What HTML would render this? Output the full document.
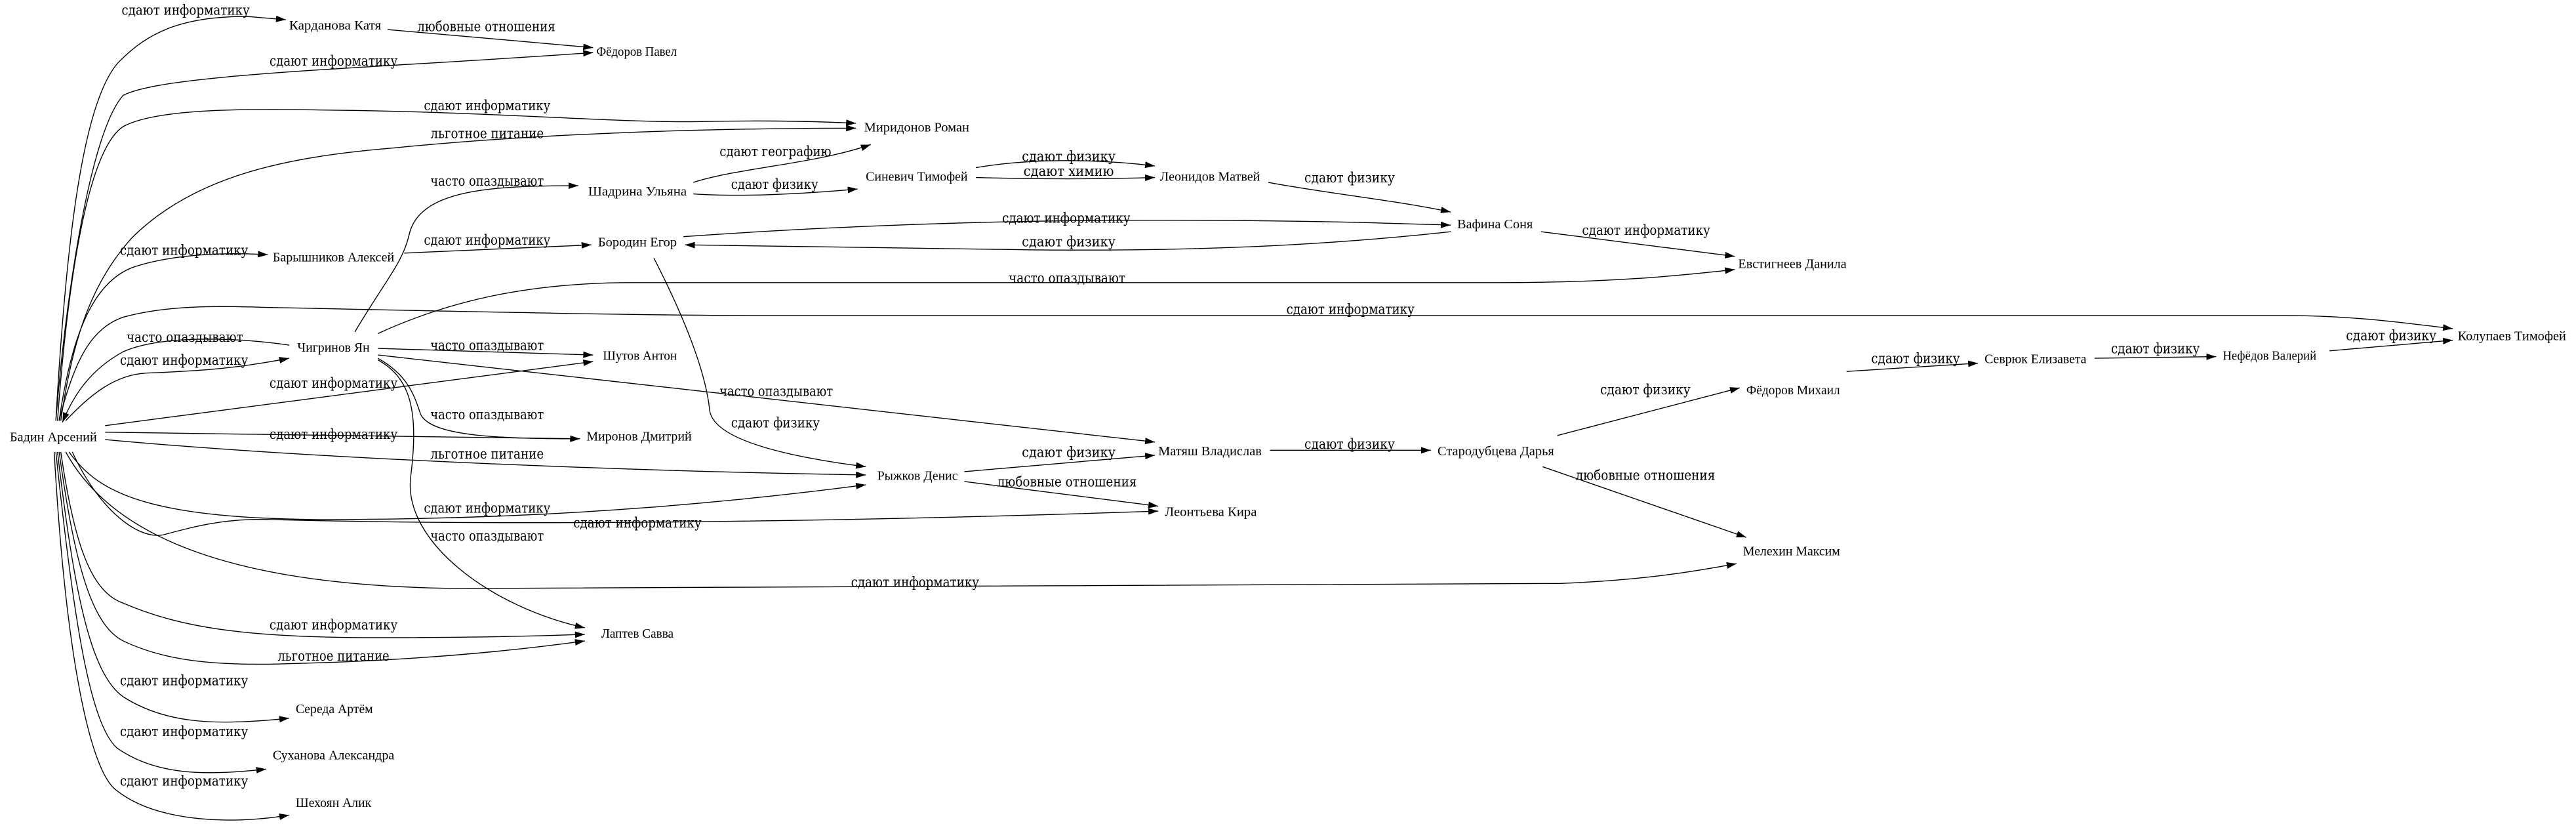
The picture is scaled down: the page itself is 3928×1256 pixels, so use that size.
<!DOCTYPE html>
<html><head><meta charset="utf-8"><style>
html,body{margin:0;padding:0;background:#fff;}
svg{display:block;}
.n{font-family:"Liberation Serif","DejaVu Serif",serif;font-size:8.2px;fill:#000;}
.l{font-family:"DejaVu Serif","Liberation Serif",serif;font-size:8.4px;fill:#000;}
path{fill:none;stroke:#000;stroke-width:0.55;marker-end:url(#a);}
</style></head><body>
<svg width="3928" height="1256" viewBox="0 0 1568 501.4" preserveAspectRatio="none" xmlns="http://www.w3.org/2000/svg">
<defs><marker id="a" markerUnits="userSpaceOnUse" markerWidth="6" markerHeight="4" refX="6" refY="2" orient="auto"><path d="M0,0 L6,2 L0,4 z" style="fill:#000;stroke:none;marker-end:none"/></marker></defs>
<rect width="1568" height="501.4" fill="#fff"/>

<!-- edges -->
<path d="M34,256 C40,150 50,60 73,37 C90,20 110,10 150,10 L174,12"/>
<path d="M236,18 L361,29"/>
<path d="M34,256 C40,180 55,80 75,58 C100,45 220,42 361,32"/>
<path d="M35,256 C42,160 55,90 75,77 C95,66 150,66 200,67 C300,68 380,75 427,74 C470,73 500,74 521,75"/>
<path d="M37,256 C45,200 58,170 80,145 C120,105 180,95 240,90 C320,82 420,78 521,78"/>
<path d="M36,256 C44,200 58,172 80,163 C100,156 130,153 163,155"/>
<path d="M422,111 C450,102 495,100 530,88"/>
<path d="M422,118 C450,120 490,118 522,115"/>
<path d="M216,202 C235,170 245,160 249,143 C255,115 300,113 352,113"/>
<path d="M246,154 L360,149"/>
<path d="M416,144 C500,138 600,134 700,134 C800,134 850,136 883,137"/>
<path d="M883,141 C800,150 720,153 626,152 C530,151 460,150 417,149"/>
<path d="M594,102 C630,96 670,97 703,101"/>
<path d="M594,108 C630,109 670,109 703,108"/>
<path d="M772,111 C810,118 850,122 883,129"/>
<path d="M938,141 L1056,156"/>
<path d="M230,203 C280,180 330,172 385,172 L911,172 C980,172 1020,168 1056,164"/>
<path d="M36,256 C45,220 55,200 75,193 C100,186 130,186 160,187 C300,190 400,192 460,192 L1390,192 C1430,192 1460,196 1493,200"/>
<path d="M1418,213.5 L1493,207"/>
<path d="M1275,218 L1349,217"/>
<path d="M1124,226 L1204,221"/>
<path d="M948,265 L1059,236"/>
<path d="M939,284 L1063,327"/>
<path d="M773,274 L871,274"/>
<path d="M587,287 L703,277"/>
<path d="M587,293 L705,308"/>
<path d="M230,216 L703,269"/>
<path d="M398,157 C420,200 430,230 432,250 C435,268 480,278 527,284"/>
<path d="M230,212 L361,216"/>
<path d="M64,259 L361,220"/>
<path d="M40,256 C55,240 70,228 89,227 C115,226 140,225 176,218"/>
<path d="M176,210 C150,206 100,203 75,214 C55,225 45,240 38,257"/>
<path d="M230,218 C248,228 252,240 256,252 C262,265 300,267 353,267"/>
<path d="M64,263 L353,267"/>
<path d="M64,267.5 C200,280 400,287 527,289"/>
<path d="M42,275 C60,300 90,318 221,316 C350,315 450,305 527,295"/>
<path d="M44,275 C60,310 85,330 101,325 C120,320 135,316 160,316 C300,320 500,318 705,311"/>
<path d="M40,275 C70,330 150,360 303,358 C500,356 700,355 950,355 C1000,353 1030,348 1057,343"/>
<path d="M230,219 C250,230 255,250 250,290 C245,330 300,370 356,382"/>
<path d="M37,275 C45,330 55,360 75,367 C110,382 150,388 228,388 C290,388 330,387 356,386"/>
<path d="M36,275 C45,340 55,380 75,390 C100,402 130,405 170,404 C260,402 320,395 356,390"/>
<path d="M35,275 C45,360 55,410 75,424 C100,440 130,442 176,437"/>
<path d="M34,275 C45,380 55,440 71,455 C95,472 125,472 162,468"/>
<path d="M33,275 C40,400 55,470 71,481 C95,500 140,502 176,496"/>

<!-- edge labels -->
<text class="l" x="74" y="9" textLength="78" lengthAdjust="spacingAndGlyphs">сдают информатику</text>
<text class="l" x="254" y="19" textLength="84" lengthAdjust="spacingAndGlyphs">любовные отношения</text>
<text class="l" x="164" y="40" textLength="78" lengthAdjust="spacingAndGlyphs">сдают информатику</text>
<text class="l" x="258" y="67" textLength="77" lengthAdjust="spacingAndGlyphs">сдают информатику</text>
<text class="l" x="262" y="84" textLength="69" lengthAdjust="spacingAndGlyphs">льготное питание</text>
<text class="l" x="438" y="95" textLength="68" lengthAdjust="spacingAndGlyphs">сдают географию</text>
<text class="l" x="445" y="115" textLength="53" lengthAdjust="spacingAndGlyphs">сдают физику</text>
<text class="l" x="262" y="113" textLength="69" lengthAdjust="spacingAndGlyphs">часто опаздывают</text>
<text class="l" x="622" y="98" textLength="57" lengthAdjust="spacingAndGlyphs">сдают физику</text>
<text class="l" x="623" y="107" textLength="55" lengthAdjust="spacingAndGlyphs">сдают химию</text>
<text class="l" x="794" y="111" textLength="55" lengthAdjust="spacingAndGlyphs">сдают физику</text>
<text class="l" x="258" y="149" textLength="77" lengthAdjust="spacingAndGlyphs">сдают информатику</text>
<text class="l" x="73" y="155" textLength="78" lengthAdjust="spacingAndGlyphs">сдают информатику</text>
<text class="l" x="610" y="135.5" textLength="78" lengthAdjust="spacingAndGlyphs">сдают информатику</text>
<text class="l" x="622" y="150" textLength="57" lengthAdjust="spacingAndGlyphs">сдают физику</text>
<text class="l" x="963" y="143" textLength="78" lengthAdjust="spacingAndGlyphs">сдают информатику</text>
<text class="l" x="614" y="172" textLength="71" lengthAdjust="spacingAndGlyphs">часто опаздывают</text>
<text class="l" x="783" y="191" textLength="78" lengthAdjust="spacingAndGlyphs">сдают информатику</text>
<text class="l" x="77" y="208" textLength="71" lengthAdjust="spacingAndGlyphs">часто опаздывают</text>
<text class="l" x="262" y="213" textLength="69" lengthAdjust="spacingAndGlyphs">часто опаздывают</text>
<text class="l" x="73" y="222" textLength="78" lengthAdjust="spacingAndGlyphs">сдают информатику</text>
<text class="l" x="164" y="236" textLength="78" lengthAdjust="spacingAndGlyphs">сдают информатику</text>
<text class="l" x="438" y="241" textLength="69" lengthAdjust="spacingAndGlyphs">часто опаздывают</text>
<text class="l" x="974" y="240" textLength="55" lengthAdjust="spacingAndGlyphs">сдают физику</text>
<text class="l" x="1139" y="221" textLength="54" lengthAdjust="spacingAndGlyphs">сдают физику</text>
<text class="l" x="1285" y="215" textLength="54" lengthAdjust="spacingAndGlyphs">сдают физику</text>
<text class="l" x="1428" y="207" textLength="55" lengthAdjust="spacingAndGlyphs">сдают физику</text>
<text class="l" x="262" y="255" textLength="69" lengthAdjust="spacingAndGlyphs">часто опаздывают</text>
<text class="l" x="445" y="260" textLength="54" lengthAdjust="spacingAndGlyphs">сдают физику</text>
<text class="l" x="164" y="267" textLength="78" lengthAdjust="spacingAndGlyphs">сдают информатику</text>
<text class="l" x="794" y="273" textLength="55" lengthAdjust="spacingAndGlyphs">сдают физику</text>
<text class="l" x="622" y="278" textLength="57" lengthAdjust="spacingAndGlyphs">сдают физику</text>
<text class="l" x="262" y="279" textLength="69" lengthAdjust="spacingAndGlyphs">льготное питание</text>
<text class="l" x="959" y="292" textLength="85" lengthAdjust="spacingAndGlyphs">любовные отношения</text>
<text class="l" x="607" y="296" textLength="85" lengthAdjust="spacingAndGlyphs">любовные отношения</text>
<text class="l" x="258" y="312" textLength="77" lengthAdjust="spacingAndGlyphs">сдают информатику</text>
<text class="l" x="349" y="321" textLength="78" lengthAdjust="spacingAndGlyphs">сдают информатику</text>
<text class="l" x="262" y="329" textLength="69" lengthAdjust="spacingAndGlyphs">часто опаздывают</text>
<text class="l" x="518" y="357" textLength="78" lengthAdjust="spacingAndGlyphs">сдают информатику</text>
<text class="l" x="164" y="383" textLength="78" lengthAdjust="spacingAndGlyphs">сдают информатику</text>
<text class="l" x="169" y="402" textLength="68" lengthAdjust="spacingAndGlyphs">льготное питание</text>
<text class="l" x="73" y="417" textLength="78" lengthAdjust="spacingAndGlyphs">сдают информатику</text>
<text class="l" x="73" y="448" textLength="78" lengthAdjust="spacingAndGlyphs">сдают информатику</text>
<text class="l" x="73" y="478" textLength="78" lengthAdjust="spacingAndGlyphs">сдают информатику</text>

<!-- nodes -->
<text class="n" x="6" y="268.5" textLength="53" lengthAdjust="spacingAndGlyphs">Бадин Арсений</text>
<text class="n" x="176" y="18" textLength="56" lengthAdjust="spacingAndGlyphs">Карданова Катя</text>
<text class="n" x="363" y="34" textLength="49" lengthAdjust="spacingAndGlyphs">Фёдоров Павел</text>
<text class="n" x="526" y="80" textLength="64" lengthAdjust="spacingAndGlyphs">Миридонов Роман</text>
<text class="n" x="358" y="119" textLength="60" lengthAdjust="spacingAndGlyphs">Шадрина Ульяна</text>
<text class="n" x="527" y="110" textLength="62" lengthAdjust="spacingAndGlyphs">Синевич Тимофей</text>
<text class="n" x="706" y="110" textLength="61" lengthAdjust="spacingAndGlyphs">Леонидов Матвей</text>
<text class="n" x="364" y="150" textLength="48" lengthAdjust="spacingAndGlyphs">Бородин Егор</text>
<text class="n" x="166" y="159" textLength="74" lengthAdjust="spacingAndGlyphs">Барышников Алексей</text>
<text class="n" x="887" y="139" textLength="46" lengthAdjust="spacingAndGlyphs">Вафина Соня</text>
<text class="n" x="1058" y="163" textLength="66" lengthAdjust="spacingAndGlyphs">Евстигнеев Данила</text>
<text class="n" x="181" y="214" textLength="44" lengthAdjust="spacingAndGlyphs">Чигринов Ян</text>
<text class="n" x="367" y="219" textLength="45" lengthAdjust="spacingAndGlyphs">Шутов Антон</text>
<text class="n" x="357" y="268" textLength="64" lengthAdjust="spacingAndGlyphs">Миронов Дмитрий</text>
<text class="n" x="534" y="292" textLength="49" lengthAdjust="spacingAndGlyphs">Рыжков Денис</text>
<text class="n" x="705" y="277" textLength="63" lengthAdjust="spacingAndGlyphs">Матяш Владислав</text>
<text class="n" x="875" y="277" textLength="71" lengthAdjust="spacingAndGlyphs">Стародубцева Дарья</text>
<text class="n" x="709" y="314" textLength="56" lengthAdjust="spacingAndGlyphs">Леонтьева Кира</text>
<text class="n" x="1061" y="338" textLength="59" lengthAdjust="spacingAndGlyphs">Мелехин Максим</text>
<text class="n" x="1063" y="240" textLength="57" lengthAdjust="spacingAndGlyphs">Фёдоров Михаил</text>
<text class="n" x="1208" y="221" textLength="62" lengthAdjust="spacingAndGlyphs">Севрюк Елизавета</text>
<text class="n" x="1353" y="219" textLength="57" lengthAdjust="spacingAndGlyphs">Нефёдов Валерий</text>
<text class="n" x="1496" y="207" textLength="66" lengthAdjust="spacingAndGlyphs">Колупаев Тимофей</text>
<text class="n" x="366" y="388" textLength="44" lengthAdjust="spacingAndGlyphs">Лаптев Савва</text>
<text class="n" x="180" y="434" textLength="47" lengthAdjust="spacingAndGlyphs">Середа Артём</text>
<text class="n" x="166" y="462" textLength="74" lengthAdjust="spacingAndGlyphs">Суханова Александра</text>
<text class="n" x="180" y="491" textLength="46" lengthAdjust="spacingAndGlyphs">Шехоян Алик</text>
</svg>
</body></html>
